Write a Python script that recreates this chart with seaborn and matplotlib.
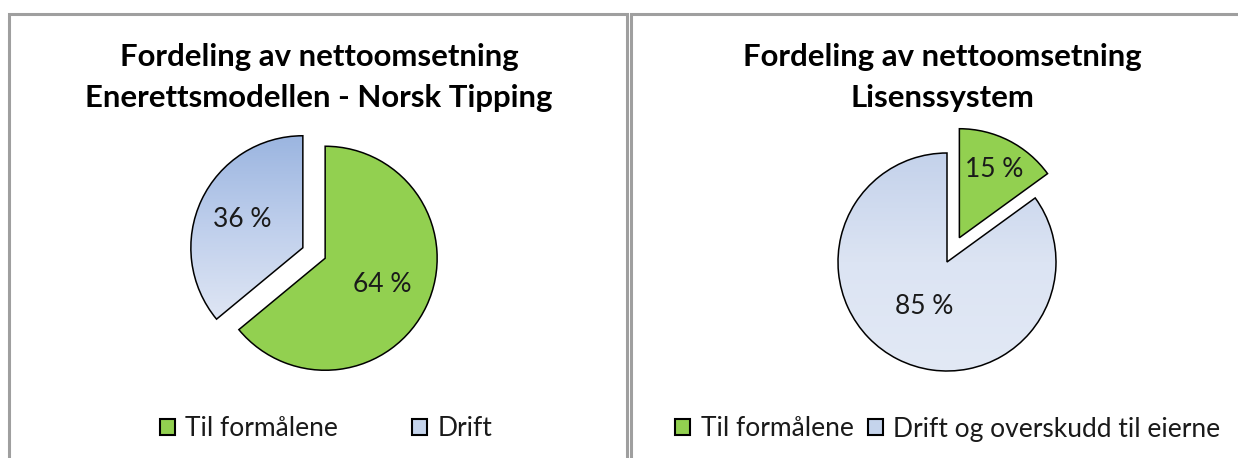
import numpy as np
import matplotlib
matplotlib.use("Agg")
import matplotlib.pyplot as plt
from matplotlib.patches import Rectangle, Patch
from matplotlib.colors import LinearSegmentedColormap
import seaborn as sns

# ---- data ----
titles = ["Fordeling av nettoomsetning\nEnerettsmodellen - Norsk Tipping",
          "Fordeling av nettoomsetning\nLisenssystem"]
left_labels = ["Til formålene", "Drift"]
left_values = [64, 36]
right_labels = ["Til formålene", "Drift og overskudd til eierne"]
right_values = [15, 85]

sns.set_theme(style="white")
plt.rcParams["font.family"] = ["Lato", "DejaVu Sans"]

W, H = 1238, 458
fig = plt.figure(figsize=(W / 100, H / 100), dpi=100)
fig.patch.set_facecolor("white")

GREEN = "#92D050"
EDGE = "#000000"
TXT = "#1a1a1a"

def fx(px):
    return px / W

def fy(py):
    return 1 - py / H

# panel borders
for x0, x1 in [(9, 627), (631, 1260)]:
    fig.patches.append(Rectangle((fx(x0), fy(480)), fx(x1 - x0), (480 - 14) / H,
                                 transform=fig.transFigure, fill=False,
                                 edgecolor="#9F9F9F", linewidth=2.2, zorder=0))


def draw_pie(cx, cy, r, values, explode, grad_colors, label_dist):
    half = 1.6
    ax = fig.add_axes([fx(cx - half * r), fy(cy + half * r),
                       fx(2 * half * r), 2 * half * r / H])
    wedges, _ = ax.pie(values, startangle=90, counterclock=False,
                       explode=explode, colors=[GREEN, "#C5D4EC"],
                       wedgeprops=dict(edgecolor=EDGE, linewidth=1.1))
    ax.set_xlim(-half, half)
    ax.set_ylim(-half, half)
    ax.set_aspect("auto")
    ax.axis("off")
    ax.patch.set_alpha(0)
    # gradient on blue wedge (light at bottom, darker at top)
    bw = wedges[1]
    ext = bw.get_path().get_extents()
    cmap = LinearSegmentedColormap.from_list("g", grad_colors)
    grad = np.linspace(0, 1, 256).reshape(-1, 1)
    im = ax.imshow(grad, cmap=cmap, aspect="auto",
                   extent=[ext.x0, ext.x1, ext.y0, ext.y1],
                   origin="lower", zorder=bw.get_zorder() - 0.1)
    im.set_clip_path(bw)
    bw.set_facecolor("none")
    ax.set_xlim(-half, half)
    ax.set_ylim(-half, half)
    for w, v, d in zip(wedges, values, label_dist):
        th = np.deg2rad((w.theta1 + w.theta2) / 2)
        x = w.center[0] + d * w.r * np.cos(th)
        y = w.center[1] + d * w.r * np.sin(th)
        ax.text(x, y, f"{v} %", ha="center", va="center",
                fontsize=19, color=TXT)
    return ax


draw_pie(314, 253, 112, left_values, [0.11, 0.11],
         ["#DFE6F4", "#BFCFEC", "#9BB5E0"], [0.56, 0.6])
draw_pie(947, 262, 109, right_values, [0.25, 0.0],
         ["#E2E9F5", "#DCE4F3", "#C4D2EB"], [0.70, 0.46])

# titles
for xc, t in [(319, titles[0]), (942, titles[1])]:
    l1, l2 = t.split("\n")
    fig.text(fx(xc), fy(66), l1, ha="center", va="baseline",
             fontsize=22.4, fontweight="bold", color="#000000")
    fig.text(fx(xc), fy(107), l2, ha="center", va="baseline",
             fontsize=22.4, fontweight="bold", color="#000000")

# legends
def legend(xc, labels, colspace):
    handles = [Patch(facecolor=GREEN, edgecolor="black", linewidth=1.5),
               Patch(facecolor="#C5D4EC", edgecolor="black", linewidth=1.5)]
    fig.legend(handles, labels, loc="center", bbox_to_anchor=(fx(xc), fy(429)),
               ncol=2, frameon=False, fontsize=19, handlelength=0.56,
               handleheight=0.56, handletextpad=0.4, columnspacing=colspace,
               borderpad=0, labelcolor=TXT)

legend(326, left_labels, 2.8)
legend(948, right_labels, 0.55)

fig.savefig("out.png", dpi=100, facecolor="white")
